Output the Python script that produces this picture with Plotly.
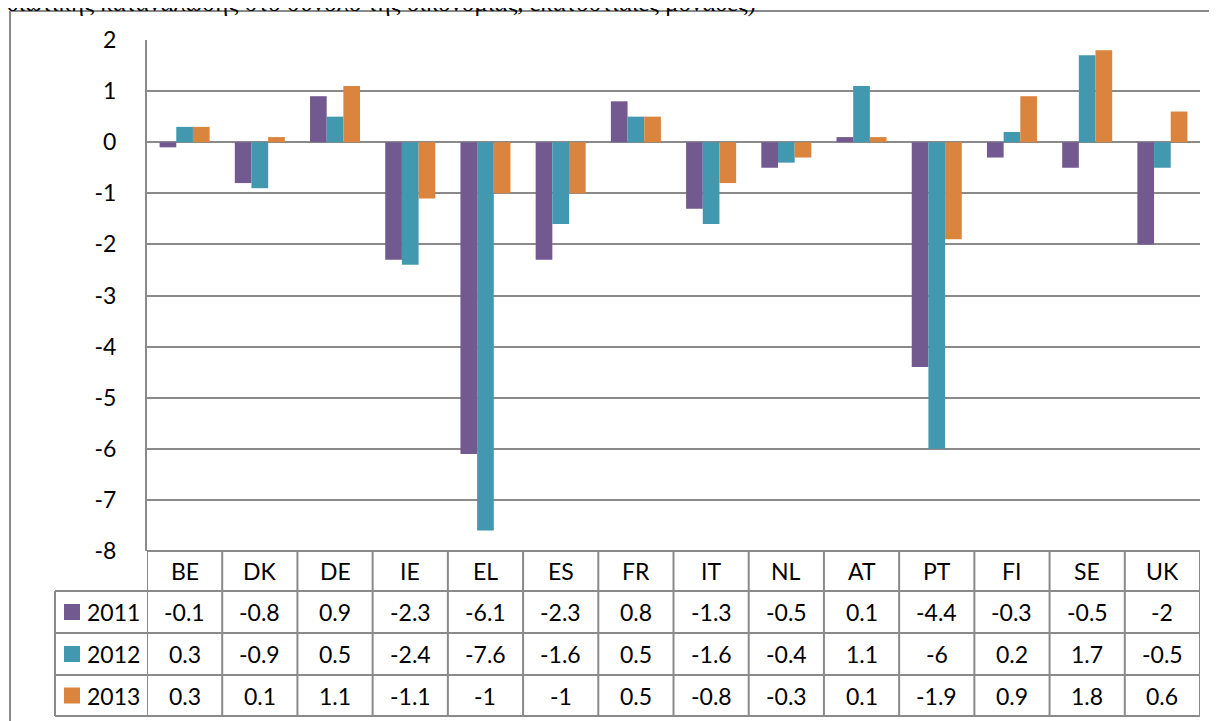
import plotly.graph_objects as go

categories = ["BE", "DK", "DE", "IE", "EL", "ES", "FR", "IT", "NL", "AT", "PT", "FI", "SE", "UK"]
years = ["2011", "2012", "2013"]
v2011 = [-0.1, -0.8, 0.9, -2.3, -6.1, -2.3, 0.8, -1.3, -0.5, 0.1, -4.4, -0.3, -0.5, -2]
v2012 = [0.3, -0.9, 0.5, -2.4, -7.6, -1.6, 0.5, -1.6, -0.4, 1.1, -6, 0.2, 1.7, -0.5]
v2013 = [0.3, 0.1, 1.1, -1.1, -1, -1, 0.5, -0.8, -0.3, 0.1, -1.9, 0.9, 1.8, 0.6]
y_ticks = [2, 1, 0, -1, -2, -3, -4, -5, -6, -7, -8]
title_text = "ιδιωτικής κατανάλωσης στο σύνολο της οικονομίας, εκατοστιαίες μονάδες)"

series = [v2011, v2012, v2013]
colors = ["#725990", "#4198AF", "#DB843D"]

OFF = 8  # page body margin
W, H = 1217 - OFF, 721 - OFF
# plot area in page pixels
PL, PR, PT_, PB = 147, 1200, 40, 551
L, R, T, B = PL - OFF, PR - OFF, PT_ - OFF, PB - OFF
GRID = "#8a8a8a"
FONT = "Lato"
FS = 23


def py2p(py):  # page pixel y -> paper
    return (B - (py - OFF)) / (B - T)


def px2p(px):  # page pixel x -> paper
    return ((px - OFF) - L) / (R - L)


fig = go.Figure()
for name, vals, col in zip(years, series, colors):
    fig.add_trace(go.Bar(x=categories, y=vals, name=name, marker_color=col,
                         marker_line_width=0))

shapes = []
annotations = []

# outer chart border (left and top)
shapes.append(dict(type="line", xref="paper", yref="paper", x0=px2p(10), x1=px2p(1230),
                   y0=py2p(11), y1=py2p(11), line=dict(color=GRID, width=2)))
shapes.append(dict(type="line", xref="paper", yref="paper", x0=px2p(10), x1=px2p(10),
                   y0=py2p(11), y1=py2p(730), line=dict(color=GRID, width=2)))

# data table
row_edges = [551, 591, 633, 675, 716]
LEG_X = 55
for i, ry in enumerate(row_edges):
    x0 = PL if i == 0 else LEG_X
    shapes.append(dict(type="line", xref="paper", yref="paper", x0=px2p(x0), x1=px2p(PR),
                       y0=py2p(ry), y1=py2p(ry), line=dict(color=GRID, width=2)))
for k in range(len(categories) + 1):
    shapes.append(dict(type="line", xref="x", yref="paper", x0=k - 0.5, x1=k - 0.5,
                       y0=py2p(row_edges[0]), y1=py2p(row_edges[-1]),
                       line=dict(color=GRID, width=2)))
shapes.append(dict(type="line", xref="paper", yref="paper", x0=px2p(LEG_X), x1=px2p(LEG_X),
                   y0=py2p(row_edges[1]), y1=py2p(row_edges[-1]),
                   line=dict(color=GRID, width=2)))

# header row
hy = py2p((row_edges[0] + row_edges[1]) / 2)
for k, c in enumerate(categories):
    annotations.append(dict(x=k, y=hy, xref="x", yref="paper", text=c, showarrow=False,
                            font=dict(family=FONT, size=FS, color="#000"),
                            xanchor="center", yanchor="middle"))
# value rows
for r, (name, vals, col) in enumerate(zip(years, series, colors)):
    cy = py2p((row_edges[r + 1] + row_edges[r + 2]) / 2)
    for k, v in enumerate(vals):
        annotations.append(dict(x=k, y=cy, xref="x", yref="paper", text=f"{v:g}",
                                showarrow=False,
                                font=dict(family=FONT, size=FS, color="#000"),
                                xanchor="center", yanchor="middle"))
    # legend key
    shapes.append(dict(type="rect", xref="paper", yref="paper", x0=px2p(64), x1=px2p(80),
                       y0=cy - 8 / (B - T), y1=cy + 8 / (B - T),
                       fillcolor=col, line=dict(width=0)))
    annotations.append(dict(x=px2p(85), y=cy, xref="paper", yref="paper", text=name,
                            showarrow=False, font=dict(family=FONT, size=FS, color="#000"),
                            xanchor="left", yanchor="middle"))

# cut-off caption at the top (as in the source image)
annotations.append(dict(x=px2p(-2), y=py2p(3), xref="paper", yref="paper", text=title_text,
                        showarrow=False,
                        font=dict(family="Liberation Serif", size=25, color="#000"),
                        xanchor="left", yanchor="middle"))

fig.update_layout(
    width=W, height=H,
    margin=dict(l=L, r=W - R, t=T, b=H - B, pad=0),
    paper_bgcolor="white", plot_bgcolor="white",
    barmode="group", bargap=0.335, bargroupgap=0,
    showlegend=False,
    shapes=shapes, annotations=annotations,
    xaxis=dict(type="category", categoryorder="array", categoryarray=categories,
               range=[-0.5, len(categories) - 0.5], showticklabels=False, ticks="",
               showgrid=False, zeroline=False, showline=False),
    yaxis=dict(range=[-8, 2], tickvals=y_ticks, ticktext=[str(t) for t in y_ticks],
               showgrid=True, gridcolor=GRID, gridwidth=2, zeroline=True,
               zerolinecolor=GRID, zerolinewidth=2, showline=True, linecolor=GRID,
               linewidth=2, ticks="", ticklabelstandoff=24,
               tickfont=dict(family=FONT, size=FS, color="#000")),
)

fig.write_html("out.html")
